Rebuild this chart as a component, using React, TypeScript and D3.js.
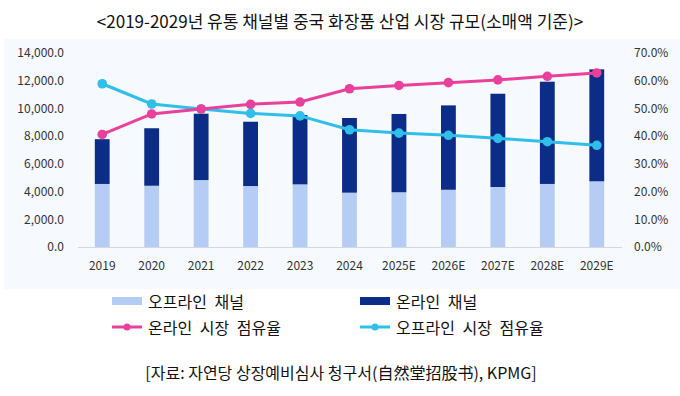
import React, { useRef, useEffect } from "react";
import * as d3 from "d3";

const years = ["2019", "2020", "2021", "2022", "2023", "2024", "2025E", "2026E", "2027E", "2028E", "2029E"];
// 오프라인 채널 (소매액)
const offline = [4550, 4420, 4830, 4400, 4520, 3920, 3950, 4130, 4330, 4550, 4740];
// 오프라인 + 온라인 합계
const total = [7780, 8570, 9620, 9040, 9520, 9310, 9600, 10220, 11060, 11930, 12820];
// 시장 점유율 (%)
const onlineShare = [40.6, 48.0, 49.8, 51.5, 52.3, 57.1, 58.3, 59.3, 60.3, 61.6, 62.8];
const offlineShare = [58.9, 51.6, 49.8, 48.2, 47.3, 42.3, 41.1, 40.3, 39.2, 38.0, 36.7];
const leftTicks = [0, 2000, 4000, 6000, 8000, 10000, 12000, 14000];
const rightTicks = [0, 10, 20, 30, 40, 50, 60, 70];

const title = "<2019-2029년 유통 채널별 중국 화장품 산업 시장 규모(소매액 기준)>";
const source = "[자료: 자연당 상장예비심사 청구서(自然堂招股书), KPMG]";

const C_OFF = "#b5cdf4";
const C_ON = "#0b2d87";
const C_PINK = "#e8409b";
const C_CYAN = "#2fbfe8";
const FONT = "'Noto Sans CJK KR', 'Noto Sans', sans-serif";

const legendItems = [
  { label: "오프라인 채널", kind: "bar", color: C_OFF },
  { label: "온라인 채널", kind: "bar", color: C_ON },
  { label: "온라인 시장 점유율", kind: "line", color: C_PINK },
  { label: "오프라인 시장 점유율", kind: "line", color: C_CYAN },
];

const W = 680;
const H = 396;

const Chart: React.FC = () => {
  const ref = useRef<SVGSVGElement | null>(null);

  useEffect(() => {
    if (!ref.current) return;
    const svg = d3.select(ref.current);
    svg.selectAll("*").remove();

    // 배경 패널
    svg.append("rect").attr("x", 4).attr("y", 39).attr("width", 676).attr("height", 250).attr("fill", "#f6f9fd");

    svg
      .append("text")
      .attr("x", 340)
      .attr("y", 20)
      .attr("text-anchor", "middle")
      .attr("dominant-baseline", "central")
      .attr("font-family", FONT)
      .attr("font-size", 17)
      .attr("fill", "#111")
      .text(title);

    const x = d3.scaleBand().domain(years).range([77.5, 621.5]).paddingInner(0.7).paddingOuter(0.35);
    const y = d3.scaleLinear().domain([0, 14000]).range([247, 53]);
    const y2 = d3.scaleLinear().domain([0, 70]).range([247, 53]);

    // 막대
    const bars = svg.append("g");
    bars
      .selectAll("rect.off")
      .data(offline)
      .enter()
      .append("rect")
      .attr("x", (_, i) => x(years[i])!)
      .attr("y", d => y(d))
      .attr("width", x.bandwidth())
      .attr("height", d => y(0) - y(d))
      .attr("fill", C_OFF);
    bars
      .selectAll("rect.on")
      .data(total)
      .enter()
      .append("rect")
      .attr("x", (_, i) => x(years[i])!)
      .attr("y", d => y(d))
      .attr("width", x.bandwidth())
      .attr("height", (d, i) => y(offline[i]) - y(d))
      .attr("fill", C_ON);

    // x축
    const gx = svg
      .append("g")
      .attr("transform", `translate(0,247)`)
      .call(d3.axisBottom(x).tickSize(0).tickSizeOuter(0).tickPadding(14));
    gx.select(".domain").attr("stroke", "#d4d8de").attr("stroke-width", 1.2);
    gx.selectAll("text").attr("font-family", FONT).attr("font-size", 12).attr("fill", "#333");

    const gl = svg
      .append("g")
      .attr("transform", `translate(67,0)`)
      .call(
        d3
          .axisLeft(y)
          .tickValues(leftTicks)
          .tickSize(0)
          .tickPadding(3)
          .tickFormat(d => d3.format(",.1f")(d as number))
      );
    gl.select(".domain").remove();
    gl.selectAll("text").attr("font-family", FONT).attr("font-size", 12).attr("fill", "#333");

    const gr = svg
      .append("g")
      .attr("transform", `translate(632,0)`)
      .call(
        d3
          .axisRight(y2)
          .tickValues(rightTicks)
          .tickSize(0)
          .tickPadding(2)
          .tickFormat(d => `${(d as number).toFixed(1)}%`)
      );
    gr.select(".domain").remove();
    gr.selectAll("text").attr("font-family", FONT).attr("font-size", 12).attr("fill", "#333");

    // 점유율 선
    const cx = (i: number) => x(years[i])! + x.bandwidth() / 2;
    const line = d3
      .line<number>()
      .x((_, i) => cx(i))
      .y(d => y2(d));

    [
      { data: offlineShare, color: C_CYAN },
      { data: onlineShare, color: C_PINK },
    ].forEach(s => {
      svg
        .append("path")
        .datum(s.data)
        .attr("fill", "none")
        .attr("stroke", s.color)
        .attr("stroke-width", 3)
        .attr("d", line);
      svg
        .append("g")
        .selectAll("circle")
        .data(s.data)
        .enter()
        .append("circle")
        .attr("cx", (_, i) => cx(i))
        .attr("cy", d => y2(d))
        .attr("r", 4.8)
        .attr("fill", s.color);
    });

    // 범례
    const lg = svg.append("g").attr("font-family", FONT).attr("font-size", 16).attr("fill", "#111");
    legendItems.forEach((item, i) => {
      const lx = i % 2 === 0 ? 112 : 360;
      const ly = i < 2 ? 301 : 327;
      if (item.kind === "bar") {
        lg.append("rect").attr("x", lx).attr("y", ly - 4).attr("width", 30).attr("height", 8).attr("fill", item.color);
      } else {
        lg.append("line")
          .attr("x1", lx)
          .attr("x2", lx + 30)
          .attr("y1", ly)
          .attr("y2", ly)
          .attr("stroke", item.color)
          .attr("stroke-width", 3);
        lg.append("circle").attr("cx", lx + 15).attr("cy", ly).attr("r", 3.5).attr("fill", item.color);
      }
      lg.append("text")
        .attr("x", lx + 36)
        .attr("y", ly)
        .attr("dominant-baseline", "central")
        .attr("word-spacing", 4)
        .text(item.label);
    });

    svg
      .append("text")
      .attr("x", 341)
      .attr("y", 372)
      .attr("text-anchor", "middle")
      .attr("dominant-baseline", "central")
      .attr("font-family", FONT)
      .attr("font-size", 16)
      .attr("fill", "#111")
      .text(source);
  }, []);

  return <svg ref={ref} width={W} height={H} style={{ position: "absolute", left: 0, top: 0, background: "#fff" }} />;
};

export default function App() {
  return <Chart />;
}
